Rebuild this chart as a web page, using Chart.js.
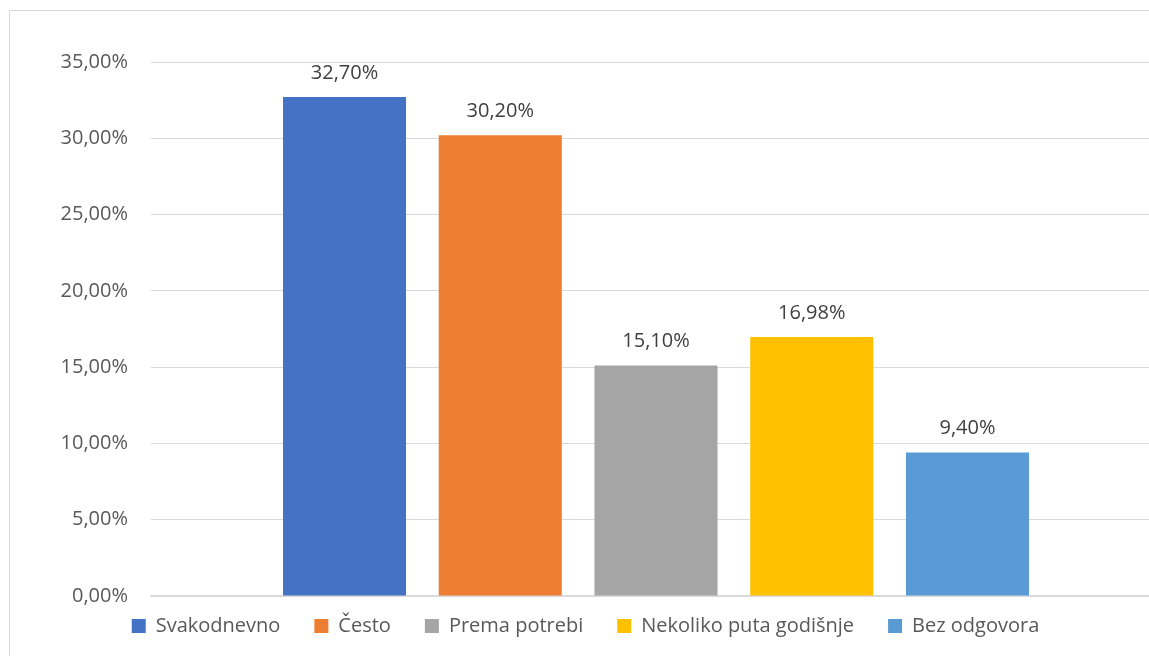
<!DOCTYPE html>
<html>
<head>
<meta charset="utf-8">
<title>Učestalost</title>
<script src="https://cdn.jsdelivr.net/npm/chart.js"></script>
<style>
  html, body { margin: 0; padding: 0; background: #fff; overflow: hidden; }
  #box {
    position: absolute; left: 9px; top: 10px;
    width: 1160px; height: 660px;
    border: 1px solid #d9d9d9;
  }
</style>
</head>
<body>
<div id="box"><canvas id="chart"></canvas></div>
<script>
// data
var categories = ['Svakodnevno', 'Često', 'Prema potrebi', 'Nekoliko puta godišnje', 'Bez odgovora'];
var values = [32.70, 30.20, 15.10, 16.98, 9.40];
var colors = ['#4472C4', '#ED7D31', '#A5A5A5', '#FFC000', '#5B9BD5'];
var yTicks = [0, 5, 10, 15, 20, 25, 30, 35];

function pct(v) {
  return v.toFixed(2).replace('.', ',') + '%';
}

// one bar per series, all in the same (unlabelled) category
var datasets = [];
for (var i = 0; i < categories.length; i++) {
  datasets.push({
    label: categories[i],
    data: [values[i]],
    backgroundColor: colors[i],
    borderWidth: 0,
    barPercentage: 0.79,
    categoryPercentage: 0.771
  });
}

// value labels above the bars
var valueLabels = {
  id: 'valueLabels',
  afterDatasetsDraw: function(chart) {
    var ctx = chart.ctx;
    ctx.save();
    ctx.font = '20px "Open Sans"';
    ctx.fillStyle = '#404040';
    ctx.textAlign = 'center';
    ctx.textBaseline = 'middle';
    chart.data.datasets.forEach(function(ds, i) {
      var bar = chart.getDatasetMeta(i).data[0];
      ctx.fillText(pct(ds.data[0]), bar.x, bar.y - 24);
    });
    ctx.restore();
  }
};

new Chart(document.getElementById('chart'), {
  type: 'bar',
  data: { labels: [''], datasets: datasets },
  options: {
    responsive: true,
    maintainAspectRatio: false,
    animation: false,
    layout: { padding: { top: 51, right: 9, left: 0, bottom: 11 } },
    plugins: {
      legend: {
        position: 'bottom',
        labels: {
          boxWidth: 14,
          boxHeight: 14,
          padding: 34,
          color: '#595959',
          font: { family: 'Open Sans', size: 20 }
        }
      },
      tooltip: { enabled: false }
    },
    scales: {
      x: {
        grid: { display: false },
        ticks: { display: false },
        border: { color: '#d9d9d9', width: 1.5 },
        afterFit: function(s) { s.height = -14; }
      },
      y: {
        min: 0,
        max: 35,
        afterBuildTicks: function(s) {
          s.ticks = yTicks.map(function(v) { return { value: v }; });
        },
        grid: { color: '#d9d9d9', drawTicks: false },
        border: { display: false },
        ticks: {
          padding: 23,
          color: '#595959',
          font: { family: 'Open Sans', size: 20 },
          callback: function(v) { return pct(v); }
        },
        afterFit: function(s) { s.width = 141; }
      }
    }
  },
  plugins: [valueLabels]
});
</script>
</body>
</html>
